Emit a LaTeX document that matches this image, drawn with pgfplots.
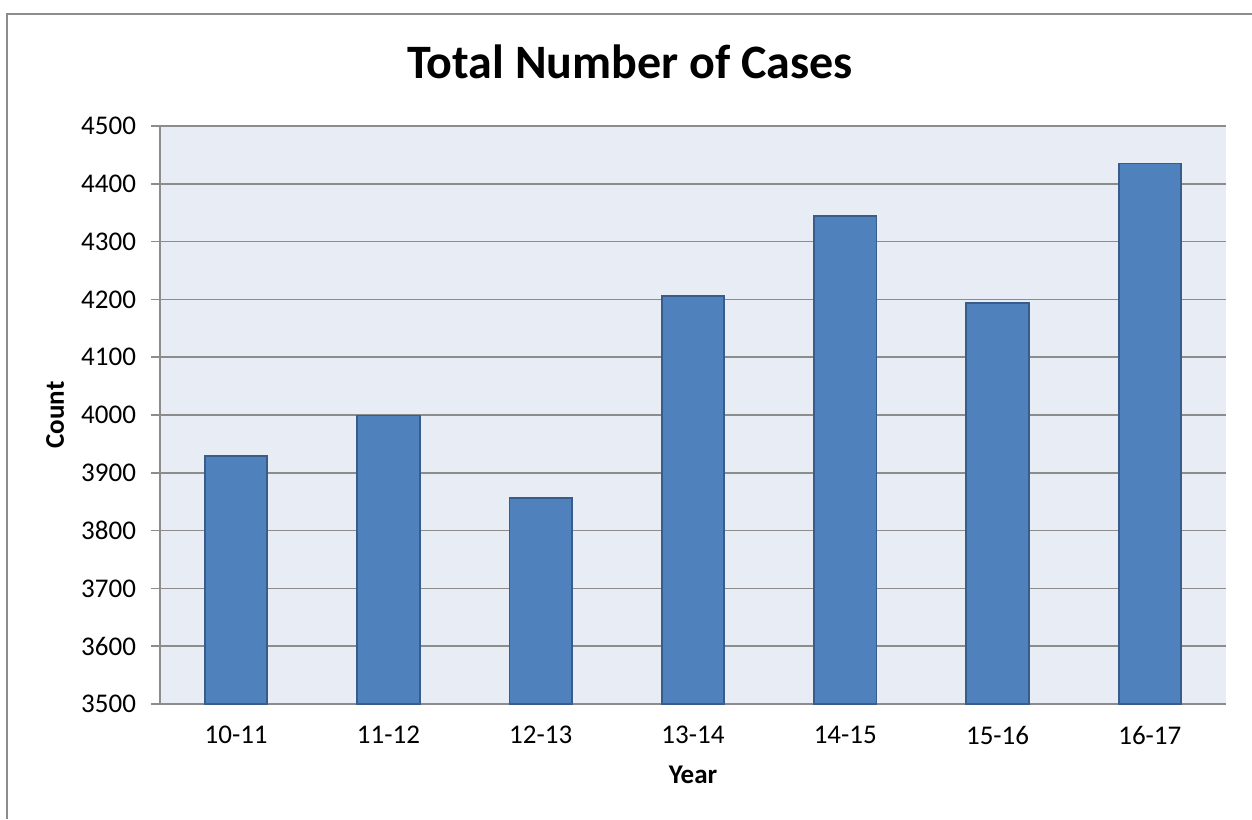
\documentclass[border=0pt]{standalone}
\usepackage{fontspec}
\setmainfont{Carlito}
\usepackage{pgfplots}
\pgfplotsset{compat=1.18}
\definecolor{barfill}{HTML}{4F81BD}
\definecolor{baredge}{HTML}{385D8A}
\definecolor{plotbg}{HTML}{E8ECF4}
\definecolor{gridc}{HTML}{8C8C8C}
\begin{document}
\begin{tikzpicture}[x=0.5pt,y=0.5pt]
% page bounds in px (y measured from top -> converted)
\useasboundingbox (0,0) rectangle (1252,819);
\draw[gridc, line width=0.8pt] (7,0) -- (7,805) -- (1252,805);
\begin{axis}[
  at={(80pt,57.5pt)}, anchor=south west,
  scale only axis,
  width=533pt, height=289pt,
  xmin=-0.5, xmax=6.5,
  ymin=3500, ymax=4500,
  ytick={3500,3600,...,4500},
  xtick={0,...,6},
  xticklabels={10-11,11-12,12-13,13-14,14-15,15-16,16-17},
  axis x line=bottom, axis y line=left,
  axis line style={-, gridc, line width=0.8pt},
  ymajorgrids,
  grid style={gridc, line width=0.8pt},
  major x tick style={draw=none},
  major y tick style={gridc, line width=0.8pt},
  tick align=outside,
  major tick length=4.5pt,
  axis background/.style={fill=plotbg},
  /pgf/number format/assume math mode=true,
  /pgf/number format/1000 sep={},
  tick label style={font=\fontsize{13.5}{16}\selectfont, text=black},
  yticklabel style={xshift=-4pt},
  xticklabel style={yshift=-3pt},
  clip=false,
]
\addplot[ybar, bar width=0.41, fill=barfill, draw=baredge, line width=0.9pt]
  coordinates {(0,3929) (1,3999) (2,3857) (3,4206) (4,4344) (5,4194) (6,4435)};
\end{axis}
\node[anchor=base, font=\fontsize{24}{28}\bfseries] at (630,740) {Total Number of Cases};
\node[rotate=90, anchor=center, font=\fontsize{13.5}{16}\bfseries] at (55,404) {Count};
\node[anchor=base, font=\fontsize{13.5}{16}\bfseries] at (693,36) {Year};
\end{tikzpicture}
\end{document}
